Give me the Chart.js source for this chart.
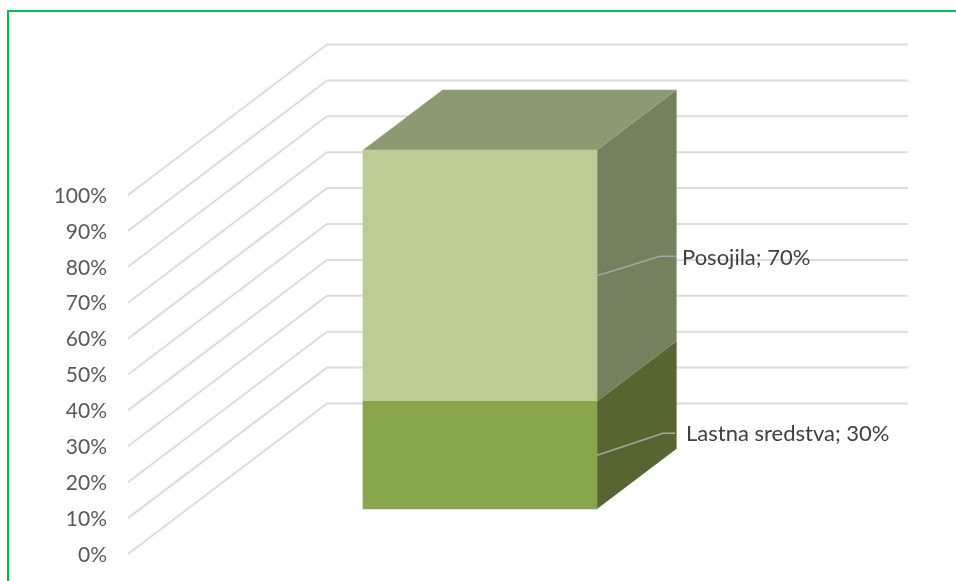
<!DOCTYPE html>
<html>
<head>
<meta charset="utf-8">
<title>Viri financiranja</title>
<script src="https://cdn.jsdelivr.net/npm/chart.js@4"></script>
<style>
    html, body { margin: 0; padding: 0; background: #fff; overflow: hidden; }
    #wrap { position: relative; width: 956px; height: 581px; }
    #frame { position: absolute; left: 7px; top: 10px; width: 960px; height: 600px; border: 2px solid #00c050; box-sizing: border-box; }
    canvas { position: absolute; left: 0; top: 0; }
</style>
</head>
<body>
<div id="wrap">
    <div id="frame"></div>
    <canvas id="chart" width="956" height="581"></canvas>
</div>
<script>
const CATEGORIES = [''];
const SERIES_NAMES = ['Lastna sredstva', 'Posojila'];
const LASTNA = [30];
const POSOJILA = [70];

/* ── Colours ─────────────────────────────────────────── */
const FRONT = ['#8aa64c', '#bbcd95'];
const SIDE  = ['#576631', '#74815e'];
const TOP   = '#8c9a72';
const GRID  = '#dcdcdc';
const LEADER = '#a6a6a6';

/* ── 3D projection ───────────────────────────────────── */
const WALL_DX = 199;       // depth vector of the whole plot
const WALL_DY = -150.5;
const WALL_W  = 581;
const BAR_NEAR = 0.3;      // bar occupies 30%..70% of the depth
const BAR_FAR  = 0.7;

const FONT = "Lato, sans-serif";
// elbow and end of each leader line, then text x/y, relative to the bar edge
const LEADERS = [
    { elbow: [66, -22],   end: 78, text: [89, -21] },
    { elbow: [63, -19.5], end: 80, text: [85, -18] },
];

function poly(ctx, color, pts) {
    ctx.fillStyle = color;
    ctx.beginPath();
    pts.forEach((p, i) => i ? ctx.lineTo(p[0], p[1]) : ctx.moveTo(p[0], p[1]));
    ctx.closePath();
    ctx.fill();
}

const box3d = {
    id: 'box3d',
    beforeDatasetsDraw(chart) {
        const ctx = chart.ctx;
        const y = chart.scales.y;
        const left = chart.chartArea.left;

        // walls: one line per tick, up the side wall and along the back
        ctx.save();
        ctx.strokeStyle = GRID;
        ctx.lineWidth = 2;
        y.ticks.forEach(t => {
            const py = y.getPixelForValue(t.value);
            ctx.beginPath();
            ctx.moveTo(left, py);
            ctx.lineTo(left + WALL_DX, py + WALL_DY);
            ctx.lineTo(left + WALL_DX + WALL_W, py + WALL_DY);
            ctx.stroke();
        });

        // side and top faces, from the bars chart.js laid out
        const dx = WALL_DX * (BAR_FAR - BAR_NEAR);
        const dy = WALL_DY * (BAR_FAR - BAR_NEAR);
        chart.data.datasets.forEach((ds, i) => {
            const bar = chart.getDatasetMeta(i).data[0];
            const r = bar.x + bar.width / 2;
            poly(ctx, SIDE[i], [[r, bar.y], [r + dx, bar.y + dy], [r + dx, bar.base + dy], [r, bar.base]]);
            if (i === chart.data.datasets.length - 1) {
                const l = bar.x - bar.width / 2;
                poly(ctx, TOP, [[l, bar.y], [l + dx, bar.y + dy], [r + dx, bar.y + dy], [r, bar.y]]);
            }
        });
        ctx.restore();
    },
    afterDatasetsDraw(chart) {
        const ctx = chart.ctx;
        ctx.save();
        chart.data.datasets.forEach((ds, i) => {
            const bar = chart.getDatasetMeta(i).data[0];
            const r = bar.x + bar.width / 2;
            const mid = (bar.y + bar.base) / 2;
            const l = LEADERS[i];
            ctx.strokeStyle = LEADER;
            ctx.lineWidth = 1.5;
            ctx.beginPath();
            ctx.moveTo(r, mid);
            ctx.lineTo(r + l.elbow[0], mid + l.elbow[1]);
            ctx.lineTo(r + l.end, mid + l.elbow[1]);
            ctx.stroke();

            ctx.fillStyle = '#404040';
            ctx.font = '22px ' + FONT;
            ctx.textAlign = 'left';
            ctx.textBaseline = 'middle';
            ctx.fillText(ds.label + '; ' + ds.data[0] + '%', r + l.text[0], mid + l.text[1]);
        });
        ctx.restore();
    }
};

const barValues = [LASTNA, POSOJILA];

new Chart(document.getElementById('chart'), {
    type: 'bar',
    data: {
        labels: CATEGORIES,
        datasets: SERIES_NAMES.map((name, i) => ({
            label: name,
            data: barValues[i],
            backgroundColor: FRONT[i],
            borderWidth: 0,
            yAxisID: 'yBar',
            clip: false,
            barThickness: 234,
        }))
    },
    options: {
        responsive: false,
        animation: false,
        layout: { padding: { left: 0, right: 124, top: 195, bottom: 27 } },
        plugins: { legend: { display: false }, tooltip: { enabled: false } },
        scales: {
            x: { display: false, stacked: true },
            y: {
                position: 'left',
                min: 0,
                max: 100,
                afterFit: s => { s.width = 128; s.paddingTop = 0; s.paddingBottom = 0; },
                grid: { display: false, drawTicks: false },
                border: { display: false },
                ticks: {
                    stepSize: 10,
                    padding: 21,
                    labelOffset: 1,
                    color: '#595959',
                    font: { family: FONT, size: 21 },
                    callback: v => v + '%',
                },
            },
            // the bar stands further back, so its zero sits higher on the page
            yBar: { display: false, stacked: true, min: -12.53, max: 87.47 },
        }
    },
    plugins: [box3d]
});
</script>
</body>
</html>
